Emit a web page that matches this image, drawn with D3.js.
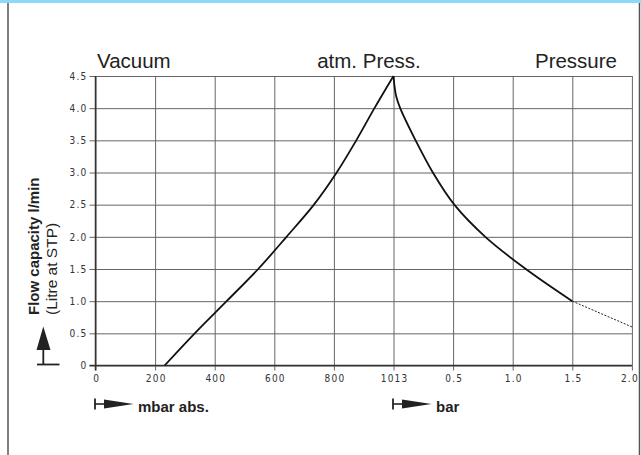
<!DOCTYPE html>
<html>
<head>
<meta charset="utf-8">
<script src="https://cdn.jsdelivr.net/npm/d3@7"></script>
<style>
  html, body { margin: 0; padding: 0; background: #fff; }
  svg { display: block; }
</style>
</head>
<body>
<div id="chart"></div>
<script>
// ---- data ----
// vacuum branch: absolute pressure in mbar -> flow l/min
const vacuumMbar = [232, 333, 440, 546, 641, 733, 810, 880, 945, 1013];
const vacuumFlow = [0, 0.5, 1.0, 1.5, 2.0, 2.5, 3.0, 3.5, 4.0, 4.5];
// pressure branch: gauge pressure in bar -> flow l/min (solid part)
const pressureBar = [0, 0.01, 0.023, 0.056, 0.185, 0.33, 0.51, 0.77, 1.11, 1.5];
const pressureFlow = [4.5, 4.32, 4.18, 4.0, 3.5, 3.0, 2.5, 2.0, 1.5, 1.0];
// dashed extension
const extBar = [1.5, 2.0];
const extFlow = [1.0, 0.6];

const xTickValues = [0, 200, 400, 600, 800, 1013, 1513, 2013, 2513, 3013];
const xTickLabels = ["0", "200", "400", "600", "800", "1013", "0.5", "1.0", "1.5", "2.0"];
const yTickValues = [0, 0.5, 1.0, 1.5, 2.0, 2.5, 3.0, 3.5, 4.0, 4.5];
const yTickLabels = ["0", "0.5", "1.0", "1.5", "2.0", "2.5", "3.0", "3.5", "4.0", "4.5"];
const topLabels = ["Vacuum", "atm. Press.", "Pressure"];

// ---- layout ----
const W = 641, H = 455;
const x0 = 95.5, cell = 59.6;
const yBottom = 365.5, yTop = 76;
const ATM = 1013;
const barToX = b => ATM + b * 1000; // gauge bar mapped onto combined axis

const svg = d3.select("#chart").append("svg").attr("width", W).attr("height", H);

svg.append("rect").attr("x", 0).attr("y", 0).attr("width", W).attr("height", 3).attr("fill", "#8ed8f8");
svg.append("line").attr("x1", 8).attr("x2", 8).attr("y1", 3).attr("y2", H).attr("stroke", "#555").attr("stroke-width", 1.5);
svg.append("line").attr("x1", 639.5).attr("x2", 639.5).attr("y1", 3).attr("y2", H).attr("stroke", "#555").attr("stroke-width", 1.5);

const x = d3.scaleLinear()
  .domain([0, 800, 1013, 3013])
  .range([x0, x0 + 4 * cell, x0 + 5 * cell, x0 + 9 * cell]);
const y = d3.scaleLinear().domain([0, 4.5]).range([yBottom, yTop]);
const plotW = x(3013) - x(0);
const plotH = yBottom - yTop;

const tickFont = "'Liberation Sans Narrow', 'DejaVu Sans Condensed', 'Roboto Condensed', sans-serif";

// x axis + vertical grid
const xAxis = svg.append("g").attr("transform", `translate(0,${yBottom})`)
  .call(d3.axisBottom(x).tickValues(xTickValues)
    .tickFormat((d, i) => xTickLabels[i]).tickSizeInner(5).tickSizeOuter(0).tickPadding(4));
xAxis.select(".domain").remove();
xAxis.selectAll(".tick line").attr("y1", 5).attr("y2", -plotH).attr("stroke", "#666").attr("stroke-width", 1);
xAxis.selectAll(".tick text").attr("font-family", tickFont).attr("font-size", 10).attr("fill", "#333")
  .attr("letter-spacing", 1.2).attr("y", 9).attr("dx", (d, i) => i === xTickValues.length - 1 ? -2.5 : 0.6);

// y axis + horizontal grid
const yAxis = svg.append("g").attr("transform", `translate(${x0},0)`)
  .call(d3.axisLeft(y).tickValues(yTickValues)
    .tickFormat((d, i) => yTickLabels[i]).tickSizeInner(5).tickSizeOuter(0).tickPadding(4));
yAxis.select(".domain").remove();
yAxis.selectAll(".tick line").attr("x1", -6).attr("x2", plotW).attr("stroke", "#666").attr("stroke-width", 1);
yAxis.selectAll(".tick text").attr("font-family", tickFont).attr("font-size", 10).attr("fill", "#333")
  .attr("letter-spacing", 1.2).attr("x", -8);

// main axis lines
svg.append("line").attr("x1", x0).attr("x2", x0).attr("y1", yTop).attr("y2", yBottom + 5)
  .attr("stroke", "#333").attr("stroke-width", 1.5);
svg.append("line").attr("x1", x0 - 6).attr("x2", x(3013)).attr("y1", yBottom).attr("y2", yBottom)
  .attr("stroke", "#333").attr("stroke-width", 1.5);

// curves
const line = d3.line().x(d => x(d[0])).y(d => y(d[1])).curve(d3.curveCatmullRom.alpha(0.5));
const vac = vacuumMbar.map((m, i) => [m, vacuumFlow[i]]);
const pres = pressureBar.map((b, i) => [barToX(b), pressureFlow[i]]);
const ext = extBar.map((b, i) => [barToX(b), extFlow[i]]);

svg.append("path").attr("d", line(vac)).attr("fill", "none").attr("stroke", "#111").attr("stroke-width", 1.8);
svg.append("path").attr("d", line(pres)).attr("fill", "none").attr("stroke", "#111").attr("stroke-width", 1.8);
svg.append("path").attr("d", line(ext)).attr("fill", "none").attr("stroke", "#222").attr("stroke-width", 1)
  .attr("stroke-dasharray", "2,1.5");

// top labels
const titleFont = "'Liberation Sans', Arial, sans-serif";
svg.append("text").attr("x", 97).attr("y", 68).text(topLabels[0])
  .attr("font-family", titleFont).attr("font-size", 20.5).attr("fill", "#222");
svg.append("text").attr("x", 369).attr("y", 68).attr("text-anchor", "middle").text(topLabels[1])
  .attr("font-family", titleFont).attr("font-size", 20.5).attr("fill", "#222");
svg.append("text").attr("x", 617).attr("y", 68).attr("text-anchor", "end").text(topLabels[2])
  .attr("font-family", titleFont).attr("font-size", 20.5).attr("fill", "#222");

// y axis title
svg.append("text").attr("transform", "translate(38.5,315) rotate(-90)")
  .text("Flow capacity l/min").attr("font-family", titleFont).attr("font-weight", "bold")
  .attr("font-size", 15).attr("fill", "#222");
svg.append("text").attr("transform", "translate(56.5,315) rotate(-90)")
  .text("(Litre at STP)").attr("font-family", titleFont)
  .attr("font-size", 15.5).attr("fill", "#222");

// up arrow
svg.append("line").attr("x1", 37).attr("x2", 59.5).attr("y1", 364.5).attr("y2", 364.5).attr("stroke", "#222").attr("stroke-width", 1.8);
svg.append("line").attr("x1", 43.3).attr("x2", 43.3).attr("y1", 364.5).attr("y2", 348).attr("stroke", "#222").attr("stroke-width", 1.8);
svg.append("path").attr("d", "M43.3,326.5 L50.5,350 L36.5,350 Z").attr("fill", "#222");

// bottom unit arrows
function unitArrow(xs, label) {
  const g = svg.append("g");
  g.append("line").attr("x1", xs).attr("x2", xs).attr("y1", 398.5).attr("y2", 409.5).attr("stroke", "#222").attr("stroke-width", 1.8);
  g.append("line").attr("x1", xs).attr("x2", xs + 12).attr("y1", 404).attr("y2", 404).attr("stroke", "#222").attr("stroke-width", 1.6);
  g.append("path").attr("d", `M${xs + 9},399.5 L${xs + 38.5},404 L${xs + 9},408.5 Z`).attr("fill", "#222");
  g.append("text").attr("x", xs + 43).attr("y", 412).text(label)
    .attr("font-family", titleFont).attr("font-weight", "bold").attr("font-size", 15).attr("fill", "#222");
}
unitArrow(95, "mbar abs.");
unitArrow(393, "bar");
</script>
</body>
</html>
